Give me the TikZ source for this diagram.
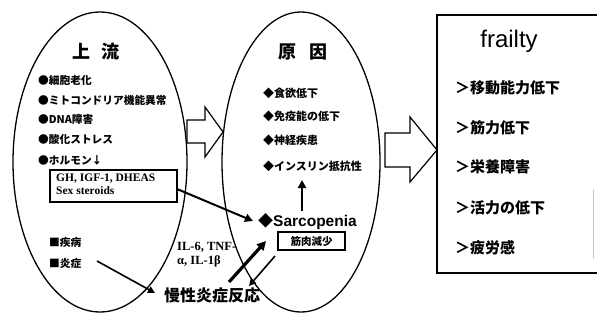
\documentclass[tikz,border=0pt]{standalone}
\usepackage{fontspec}
\setmainfont{Liberation Serif}
\newfontfamily\jp{Noto Sans CJK JP}
\newfontfamily\arial{Liberation Sans}
\usetikzlibrary{arrows.meta,shapes.geometric}
\begin{document}
\begin{tikzpicture}[x=1pt,y=-1pt,
  jtxt/.style={anchor=west, inner sep=0pt, font=\jp\bfseries\fontsize{10.7}{12}\selectfont},
  mtxt/.style={anchor=west, inner sep=0pt, font=\jp\bfseries\fontsize{11}{12}\selectfont},
  ftxt/.style={anchor=west, inner sep=0pt, font=\jp\bfseries\fontsize{15}{17}\selectfont},
  ttl/.style={inner sep=0pt, font=\jp\bfseries\fontsize{18}{20}\selectfont},
  oval/.style={ellipse, draw, line width=1.3pt, inner sep=0pt},
  hollow/.style={draw, line width=1.2pt, fill=white, line join=miter},
  arr/.style={line width=2pt, -{Triangle[length=8pt,width=8pt]}},
  thinarr/.style={line width=1.6pt, -{Triangle[length=7pt,width=7pt]}},
  fatarr/.style={line width=3.2pt, -{Triangle[length=9pt,width=9pt]}},
  boxed/.style={draw, line width=1.1pt, rectangle}
]
\useasboundingbox (0,0) rectangle (597,322);
% ellipses
\node[oval, minimum width=174pt, minimum height=300pt] (upstream) at (100,162) {};
\node[oval, minimum width=158pt, minimum height=300pt] (cause) at (301,162) {};
% hollow arrows
\draw[hollow] (187,120) -- (205,120) -- (205,107) -- (223,132) -- (205,157) -- (205,143) -- (187,143) -- cycle;
\draw[hollow] (385,133) -- (410,133) -- (410,117) -- (437,150) -- (410,182) -- (410,167) -- (385,167) -- cycle;
% frailty box
\draw[line width=1.2pt] (597,15) -- (437,15) -- (437,273) -- (597,273);
\draw[line width=0.6pt, black!25] (593,190) -- (593,258);
% left texts
\node[ttl] (t1) at (96,52) {上\hspace{0.6em}流};
\node[jtxt] (l1) at (38,80) {●細胞老化};
\node[jtxt] (l2) at (38,100) {●ミトコンドリア機能異常};
\node[jtxt] (l3) at (38,119) {●DNA障害};
\node[jtxt] (l4) at (38,139) {●酸化ストレス};
\node[jtxt] (l5) at (38,160) {●ホルモン↓};
\node[boxed, minimum width=127pt, minimum height=32pt, inner sep=0pt] (hb) at (113.5,186) {};
\node[anchor=north west, inner sep=0pt, align=left, font=\bfseries\fontsize{11.5}{12.5}\selectfont] (hbt) at (56,174) {GH, IGF-1, DHEAS\\Sex steroids};
\node[jtxt] (d1) at (49,242) {■疾病};
\node[jtxt] (d2) at (49,263) {■炎症};
% middle texts
\node[ttl] (t2) at (303,52) {原\hspace{0.7em}因};
\node[mtxt] (m1) at (263,93) {◆食欲低下};
\node[mtxt] (m2) at (263,116) {◆免疫能の低下};
\node[mtxt] (m3) at (263,140) {◆神経疾患};
\node[mtxt] (m4) at (263,166) {◆インスリン抵抗性};
\node[anchor=west, inner sep=0pt] (sarc) at (258,222) {{\jp\bfseries\fontsize{15}{16}\selectfont ◆}{\arial\bfseries\fontsize{15.5}{16}\selectfont Sarcopenia}};
\node[boxed, minimum width=67pt, minimum height=18pt, inner sep=0pt, font=\jp\bfseries\fontsize{10.5}{12}\selectfont] (kin) at (311.5,241) {筋肉減少};
\node[anchor=west, inner sep=0pt, align=left, font=\bfseries\fontsize{12.5}{14}\selectfont] (il) at (177,255) {IL-6, TNF-\\α, IL-1β};
\node[anchor=west, inner sep=0pt, font=\jp\bfseries\fontsize{16}{18}\selectfont] (mansei) at (164,295) {慢性炎症反応};
% right texts
\node[inner sep=0pt, font=\arial\fontsize{24}{26}\selectfont] (fr) at (509,41) {frailty};
\node[ftxt] (r1) at (455,88) {＞移動能力低下};
\node[ftxt] (r2) at (455,128) {＞筋力低下};
\node[ftxt] (r3) at (455,167) {＞栄養障害};
\node[ftxt] (r4) at (455,208) {＞活力の低下};
\node[ftxt] (r5) at (455,248) {＞疲労感};
% connectors
\coordinate (hbout) at (177,189);
\coordinate (sarcin) at (253,221);
\draw[arr] (hbout) -- (sarcin);
\coordinate (upfrom) at (302,211);
\coordinate (upto) at (302,180);
\draw[arr] (upfrom) -- (upto);
\coordinate (ensho) at (97,261);
\coordinate (manin) at (155,293);
\draw[thinarr] (ensho) -- (manin);
\coordinate (fatfrom) at (229,282);
\coordinate (fatto) at (266,241);
\draw[fatarr] (fatfrom) -- (fatto);
\coordinate (backfrom) at (275,256);
\coordinate (backto) at (249,286);
\draw[thinarr] (backfrom) -- (backto);
\end{tikzpicture}
\end{document}
